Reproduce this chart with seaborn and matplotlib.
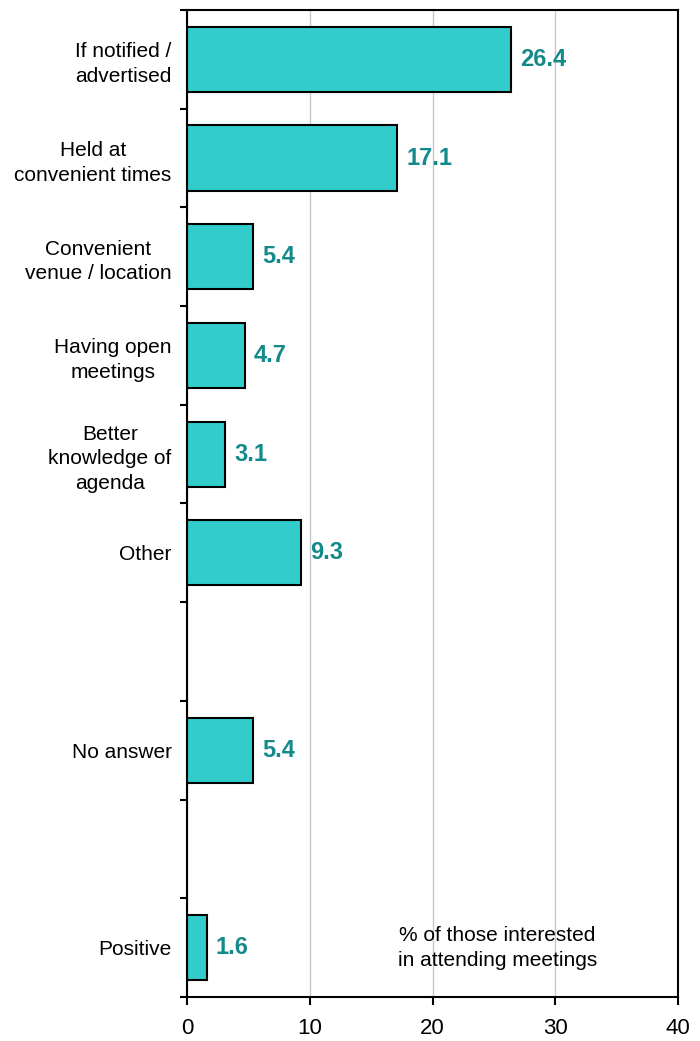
import matplotlib
matplotlib.use("Agg")
import matplotlib.pyplot as plt
import seaborn as sns
import numpy as np
import pandas as pd

categories = ["If notified /\nadvertised", "Held at\nconvenient times",
              "Convenient\nvenue / location", "Having open\nmeetings",
              "Better\nknowledge of\nagenda", "Other", " ", "No answer", "  ", "Positive"]
values = [26.4, 17.1, 5.4, 4.7, 3.1, 9.3, np.nan, 5.4, np.nan, 1.6]
x_ticks = [0, 10, 20, 30, 40]
note = "% of those interested\nin attending meetings"

sns.set_theme(style="white")
plt.rcParams['font.family'] = ['Liberation Sans', 'DejaVu Sans']

df = pd.DataFrame({"cat": categories, "val": values})

fig = plt.figure(figsize=(7, 10.41), dpi=100)
ax = fig.add_axes([187/700, 1 - 997/1041, (678-187)/700, (997-10)/1041])

sns.barplot(data=df, x="val", y="cat", order=categories, orient="h",
            color="#33CCCC", saturation=1, edgecolor="black", linewidth=1.5,
            width=0.66, ax=ax)

ax.set_xlim(0, 40)
ax.set_ylim(len(categories) - 0.5, -0.5)
ax.set_xticks(x_ticks)
ax.set_xticklabels([str(t) for t in x_ticks], fontsize=16, color="black")
ax.xaxis.grid(True, color="#c8c8c8", linewidth=1)
ax.set_axisbelow(True)
ax.set_xlabel("")
ax.set_ylabel("")

ax.set_yticks(range(len(categories)))
ax.set_yticklabels(categories, fontsize=15, multialignment="center", linespacing=1.38, color="black")
ax.set_yticks(np.arange(-0.5, len(categories), 1), minor=True)
ax.tick_params(axis="y", which="major", length=0, pad=11)
ax.tick_params(axis="y", which="minor", length=5, width=1.5, color="black", direction="out", left=True)
ax.tick_params(axis="x", which="major", length=6, width=1.5, color="black", direction="out", bottom=True, pad=9)

for s in ax.spines.values():
    s.set_visible(True)
    s.set_color("black")
    s.set_linewidth(1.5)

for i, v in enumerate(values):
    if not np.isnan(v):
        ax.text(v + 0.75, i, f"{v:.1f}", va="center", ha="left", fontsize=17,
                fontweight="bold", color="#138a8a")

ax.text(25.3, 9.0, note, ha="center", va="center", fontsize=15, linespacing=1.38, color="black")

fig.savefig("out.png", dpi=100)
